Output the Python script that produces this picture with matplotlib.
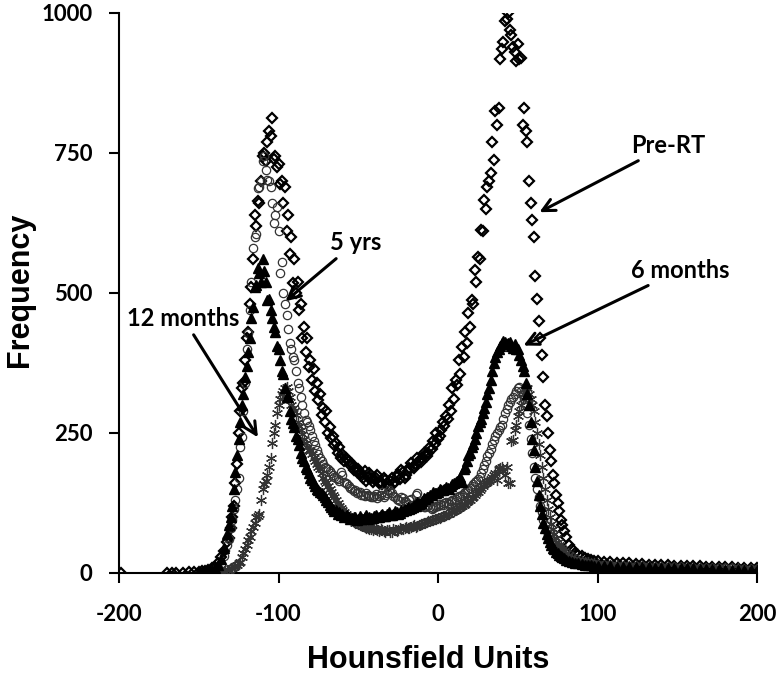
import numpy as np
import matplotlib.pyplot as plt

# Hounsfield unit bins (x): even bins over the full range, odd bins in the busy middle
hu = list(range(-150, 101, 2)) + list(range(104, 201, 4))
hu_odd = list(range(-131, 80, 2))

# extra isolated Pre-RT points far left
pre_extra_hu = [-199, -170, -167, -164, -160, -156, -153]
pre_extra_val = [0, 0, 0, 0, 0, 1, 1]

nan = np.nan

pre_rt = [2, 3, 4, 5, 8, 10, 18, 28, 40, 55,
          80, 120, 195, 290, 340, 420, 480, 560, 620, 660,
          745, 735, 790, 812, 745, 730, 700, 690, 640, 600,
          560, 520, 480, 440, 420, 380, 365, 340, 320, 295,
          290, 260, 245, 232, 225, 212, 205, 200, 195, 188,
          185, 178, 182, 172, 170, 168, 175, 163, 170, 160,
          165, 158, 172, 168, 180, 175, 188, 190, 195, 200,
          205, 210, 215, 222, 230, 240, 255, 262, 275, 290,
          310, 335, 355, 385, 410, 440, 480, 520, 560, 610,
          650, 700, 770, 825, 830, 935, 985, 1000, 960, 930,
          945, 920, 830, 770, 660, 600, 490, 420, 350, 280,
          220, 175, 140, 110, 85, 65, 50, 42, 36, 32,
          30, 27, 25, 24, 22, 22,
          20, 19, 18, 18, 17, 16, 16, 15, 15, 14, 14, 13, 13,
          12, 12, 12, 11, 11, 10, 10, 10, 9, 9, 8, 8]
pre_rt_odd = [62, 100, 160, 250, 330, 380, 430, 510, 640, 665,
              700, 750, 770, 780, 740, 725, 695, 660, 610, 570,
              518, 500, 470, 420, 395, 368, 345, 325, 308, 282,
              270, 250, 241, 228, 215, 205, 200, 202, 192, 184,
              180, 176, 170, 165, 178, 162, 170, 160, 158, 166,
              155, 170, 162, 176, 184, 170, 182, 196, 188, 205,
              198, 215, 208, 225, 235, 250, 245, 270, 280, 300,
              330, 345, 380, 404, 430, 465, 488, 541, 564, 612,
              666, 689, 714, 738, 800, 917, 948, 990, 970, 940,
              915, 918, 800, 790, 700, 630, 530, 450, 390, 300,
              250, 200, 160, 125, 95, 75]

six_months = [1, 2, 2, 3, 5, 8, 14, 25, 45, 70,
              100, 150, 210, 270, 320, 370, 420, 475, 515, 535,
              560, 520, 490, 455, 430, 400, 360, 330, 315, 275,
              260, 240, 215, 200, 185, 170, 160, 150, 145, 140,
              130, 122, 115, 112, 108, 105, 102, 100, 98, 100,
              96, 98, 100, 97, 99, 102, 100, 104, 101, 105,
              103, 106, 108, 107, 110, 112, 115, 118, 120, 124,
              128, 132, 136, 140, 142, 145, 148, 150, 152, 155,
              160, 165, 172, 185, 200, 215, 230, 250, 270, 285,
              305, 330, 360, 385, 400, 410, 412, 410, 405, 408,
              400, 380, 360, 320, 270, 220, 165, 120, 90, 70,
              55, 45, 38, 32, 28, 24, 22, 20, 18, 17,
              16, 15, 14, 14, 13, 13,
              12, 12, 11, 11, 11, 10, 10, 10, 9, 9, 9, 8, 8,
              8, 8, 7, 7, 7, 7, 6, 6, 6, 6, 5, 5]
six_months_odd = [85, 120, 180, 240, 300, 350, 395, 455, 510, 545,
                  520, 540, 488, 470, 440, 405, 380, 355, 315, 290,
                  268, 245, 228, 205, 190, 178, 166, 155, 148, 143,
                  135, 126, 118, 110, 106, 103, 100, 104, 96, 100,
                  95, 102, 97, 103, 100, 98, 104, 100, 106, 102,
                  108, 104, 110, 106, 112, 114, 118, 116, 122, 126,
                  125, 134, 135, 140, 145, 143, 150, 148, 153, 150,
                  158, 163, 168, 163, 190, 210, 225, 240, 262, 275,
                  295, 320, 345, 375, 395, 405, 415, 408, 412, 402,
                  400, 390, 370, 340, 300, 240, 190, 140, 105, 80,
                  62, 50, 42, 35, 30, 26]

five_yrs = [nan, nan, nan, nan, nan, 3, 8, 15, 30, 50,
            80, 115, 150, 225, 290, 400, 470, 580, 605, 690,
            735, 720, 700, 660, 640, 610, 555, 480, 435, 400,
            380, 340, 315, 285, 270, 255, 235, 220, 205, 195,
            188, 182, 175, 170, 165, 175, 160, 155, 150, 148,
            145, 140, 138, 140, 136, 138, 134, 140, 136, 142,
            145, 138, 132, 128, 134, 126, 130, 122, 140, 125,
            120, 118, 122, 115, 118, 120, 122, 125, 125, 128,
            130, 135, 138, 142, 148, 152, 158, 165, 172, 185,
            200, 215, 230, 245, 255, 265, 285, 300, 310, 320,
            330, 325, 310, 285, 240, 190, 150, 120, 95, 75,
            60, 50, 42, 36, 30, 27, 25, 23, 21, 20,
            19, 18, 17, 16, 16, 15,
            14, 14, 13, 13, 12, 12, 12, 11, 11, 11, 10, 10, 10,
            9, 9, 9, 9, 8, 8, 8, 8, 7, 7, 7, 7]
five_yrs_odd = [60, 95, 130, 170, 243, 340, 428, 520, 600, 687,
                700, 745, 702, 690, 625, 654, 535, 500, 460, 411,
                386, 360, 330, 300, 273, 262, 245, 228, 212, 200,
                190, 185, 178, 172, 168, 180, 162, 158, 152, 146,
                143, 144, 139, 142, 137, 136, 141, 137, 144, 140,
                148, 142, 135, 130, 136, 128, 124, 132, 120, 143,
                122, 117, 120, 118, 116, 119, 124, 121, 127, 124,
                130, 132, 137, 140, 145, 150, 155, 162, 168, 178,
                192, 208, 222, 238, 250, 260, 275, 292, 305, 315,
                325, 332, 318, 300, 265, 215, 170, 135, 108, 85,
                68, 55, 46, 39, 33, 28]

twelve_months = [nan, nan, nan, nan, nan, nan, nan, 2, 3, 5,
                 8, 10, 15, 20, 35, 50, 65, 82, 100, 105,
                 150, 165, 190, 232, 265, 300, 320, 330, 325, 300,
                 290, 270, 255, 240, 225, 218, 205, 195, 185, 170,
                 160, 150, 140, 130, 120, 112, 105, 100, 95, 90,
                 88, 85, 82, 80, 78, 80, 76, 78, 75, 77,
                 74, 78, 75, 80, 78, 82, 80, 84, 82, 86,
                 88, 90, 92, 94, 96, 98, 100, 102, 105, 108,
                 110, 115, 118, 122, 126, 130, 136, 142, 148, 155,
                 160, 165, 172, 178, 185, 190, 175, 160, 235, 255,
                 280, 300, 320, 330, 310, 290, 250, 210, 170, 130,
                 100, 78, 62, 50, 42, 36, 32, 28, 25, 23,
                 21, 20, 19, 18, 17, 16,
                 15, 14, 14, 13, 13, 12, 12, 12, 11, 11, 11, 10, 10,
                 10, 9, 9, 9, 9, 8, 8, 8, 8, 7, 7, 7]
twelve_months_odd = [6, 9, 12, 18, 28, 42, 58, 75, 90, 102,
                     130, 158, 175, 205, 250, 285, 310, 325, 332, 315,
                     295, 282, 262, 248, 232, 220, 212, 200, 190, 178,
                     165, 155, 145, 135, 125, 116, 108, 102, 97, 92,
                     89, 86, 84, 81, 79, 77, 79, 75, 77, 74,
                     76, 73, 77, 76, 79, 80, 81, 82, 85, 84,
                     87, 89, 91, 93, 95, 97, 99, 101, 104, 106,
                     109, 112, 116, 120, 124, 128, 133, 139, 145, 151,
                     158, 162, 168, 175, 166, 188, 182, 190, 161, 238,
                     265, 290, 310, 325, 320, 300, 270, 230, 190, 150,
                     115, 88, 70, 56, 46, 39]

plt.rcParams['font.family'] = ['Lato', 'DejaVu Sans']
plt.rcParams['axes.unicode_minus'] = False

fig = plt.figure(figsize=(7.8, 6.76), dpi=100)
ax = fig.add_axes([0.1526, 0.1524, 0.818, 0.8284])

ax.plot(pre_extra_hu + hu + hu_odd, pre_extra_val + pre_rt + pre_rt_odd,
        linestyle='none', marker='D', ms=5.5, mfc='none', mec='black',
        mew=1.6, zorder=3)
ax.plot(hu + hu_odd, five_yrs + five_yrs_odd, linestyle='none', marker='o',
        ms=6, mfc='none', mec='#333333', mew=0.9, zorder=4)
ax.plot(hu + hu_odd, twelve_months + twelve_months_odd, linestyle='none',
        marker=(6, 2, 0), ms=8, mec='#333333', mew=0.9, zorder=4)
ax.plot(hu + hu_odd, six_months + six_months_odd, linestyle='none',
        marker='^', ms=7, mfc='black', mec='black', zorder=5)

ax.set_xlim(-200, 200)
ax.set_ylim(0, 1000)
ax.set_xticks([-200, -100, 0, 100, 200])
ax.set_yticks([0, 250, 500, 750, 1000])
ax.tick_params(direction='out', length=7, width=1.5, labelsize=16)
ax.tick_params(axis='x', pad=15)
ax.tick_params(axis='y', pad=12)
for lab in ax.get_xticklabels() + ax.get_yticklabels():
    lab.set_fontweight('bold')
for s in ['top', 'right']:
    ax.spines[s].set_visible(False)
for s in ['left', 'bottom']:
    ax.spines[s].set_linewidth(1.5)

lab_font = ['Liberation Sans', 'DejaVu Sans']
ax.set_xlabel('Hounsfield Units', fontsize=22, fontweight='bold',
              family=lab_font, va='center')
ax.set_ylabel('Frequency', fontsize=22, fontweight='bold',
              family=lab_font, va='center')
ax.xaxis.set_label_coords(0.484, -0.155)
ax.yaxis.set_label_coords(-0.155, 0.505)

arrow = dict(arrowstyle='->', color='black', lw=2.2, mutation_scale=22)
ax.annotate('Pre-RT', xy=(62, 642), xytext=(121, 764), fontsize=17,
            fontweight='bold', va='center', ha='left', arrowprops=arrow)
ax.annotate('6 months', xy=(52, 404), xytext=(121, 541), fontsize=17,
            fontweight='bold', va='center', ha='left', arrowprops=arrow)
ax.annotate('5 yrs', xy=(-97, 482), xytext=(-68, 590), fontsize=17,
            fontweight='bold', va='center', ha='left', arrowprops=arrow)
ax.annotate('12 months', xy=(-112, 238), xytext=(-195, 455), fontsize=17,
            fontweight='bold', va='center', ha='left', arrowprops=arrow)

fig.savefig('out.png', dpi=100)
